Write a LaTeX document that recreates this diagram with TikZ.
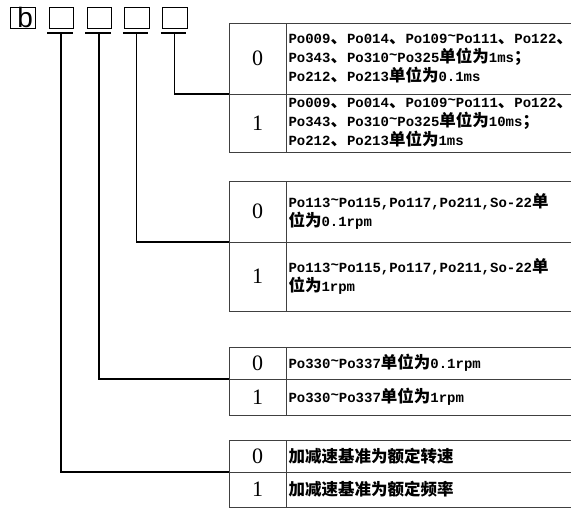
\documentclass[tikz,border=0pt]{standalone}
\usepackage{fontspec}
\setmainfont{Liberation Serif}
\setsansfont{Liberation Sans}
\setmonofont{Liberation Mono}
\newfontfamily\cjkfont{Noto Sans CJK SC}
\usepackage{tikz}
\usetikzlibrary{positioning}
\newcommand{\zh}[1]{{\cjkfont\fontsize{16.5}{19}\selectfont #1}}
\newcommand{\tld}{\raisebox{.4ex}{\textasciitilde}}

\begin{document}
\begin{tikzpicture}[x=1pt,y=-1pt,
  digbox/.style={draw,line width=1pt,minimum width=24.5pt,minimum height=21pt,inner sep=0pt},
  bar/.style={line width=1.8pt},
  conn/.style={line width=1.4pt},
  keycell/.style={draw=black!75,line width=0.8pt,outer sep=0pt,minimum width=57pt,inner sep=0pt,
    font=\fontsize{22}{22}\selectfont},
  valcell/.style={draw=black!75,line width=0.8pt,outer sep=0pt,inner xsep=2.5pt,inner ysep=0pt,
    text width=289pt,align=left,font=\ttfamily\bfseries\fontsize{14}{19}\selectfont}]
  \useasboundingbox (0,0) rectangle (571,509);
  \clip (0,0) rectangle (571,509);
  % parameter code boxes
  \node[digbox,font=\sffamily\fontsize{28}{28}\selectfont,text width=21pt,align=right,inner xsep=2pt] (pfx) at (22.5,17.8) {b};
  \foreach \i/\cx in {1/61.6,2/99.5,3/137.2,4/175}{
    \node[digbox] (d\i) at (\cx,17.8) {};
    \draw[bar] ([xshift=-1.5pt,yshift=-4pt]d\i.south west) -- ([xshift=-1.5pt,yshift=-4pt]d\i.south east);
    \coordinate (s\i) at ([xshift=-0.5pt,yshift=-4pt]d\i.south);
  }
  % time units
  \node[keycell,minimum height=71pt,anchor=north west] (tms0) at (229,23) {0};
  \node[keycell,minimum height=58pt,below=0pt of tms0] (tms1) {1};
  \node[valcell,minimum height=71pt,right=0pt of tms0] (tms0v) {Po009\zh{、}Po014\zh{、}Po109\tld Po111\zh{、}Po122\zh{、}\\Po343\zh{、}Po310\tld Po325\zh{单位为}1ms\zh{；}\\Po212\zh{、}Po213\zh{单位为}0.1ms};
  \node[valcell,minimum height=58pt,right=0pt of tms1] (tms1v) {Po009\zh{、}Po014\zh{、}Po109\tld Po111\zh{、}Po122\zh{、}\\Po343\zh{、}Po310\tld Po325\zh{单位为}10ms\zh{；}\\Po212\zh{、}Po213\zh{单位为}1ms};
  % speed units
  \node[keycell,minimum height=61pt,anchor=north west] (trpm0) at (229,181) {0};
  \node[keycell,minimum height=69pt,below=0pt of trpm0] (trpm1) {1};
  \node[valcell,minimum height=61pt,right=0pt of trpm0] (trpm0v) {Po113\tld Po115,Po117,Po211,So-22\zh{单}\\\zh{位为}0.1rpm};
  \node[valcell,minimum height=69pt,right=0pt of trpm1] (trpm1v) {Po113\tld Po115,Po117,Po211,So-22\zh{单}\\\zh{位为}1rpm};
  % Po330 group
  \node[keycell,minimum height=32pt,anchor=north west] (tlim0) at (229,347) {0};
  \node[keycell,minimum height=36pt,below=0pt of tlim0] (tlim1) {1};
  \node[valcell,minimum height=32pt,right=0pt of tlim0] (tlim0v) {Po330\tld Po337\zh{单位为}0.1rpm};
  \node[valcell,minimum height=36pt,right=0pt of tlim1] (tlim1v) {Po330\tld Po337\zh{单位为}1rpm};
  % acceleration base
  \node[keycell,minimum height=32pt,anchor=north west] (tacc0) at (229,440) {0};
  \node[keycell,minimum height=35pt,below=0pt of tacc0] (tacc1) {1};
  \node[valcell,minimum height=32pt,right=0pt of tacc0] (tacc0v) {\zh{加减速基准为额定转速}};
  \node[valcell,minimum height=35pt,right=0pt of tacc1] (tacc1v) {\zh{加减速基准为额定频率}};
  % connectors
  \draw[conn] (s4) |- (tms0.south west);
  \draw[conn] (s3) |- (trpm0.south west);
  \draw[conn] (s2) |- (tlim0.south west);
  \draw[conn] (s1) |- (tacc0.south west);
\end{tikzpicture}
\end{document}
